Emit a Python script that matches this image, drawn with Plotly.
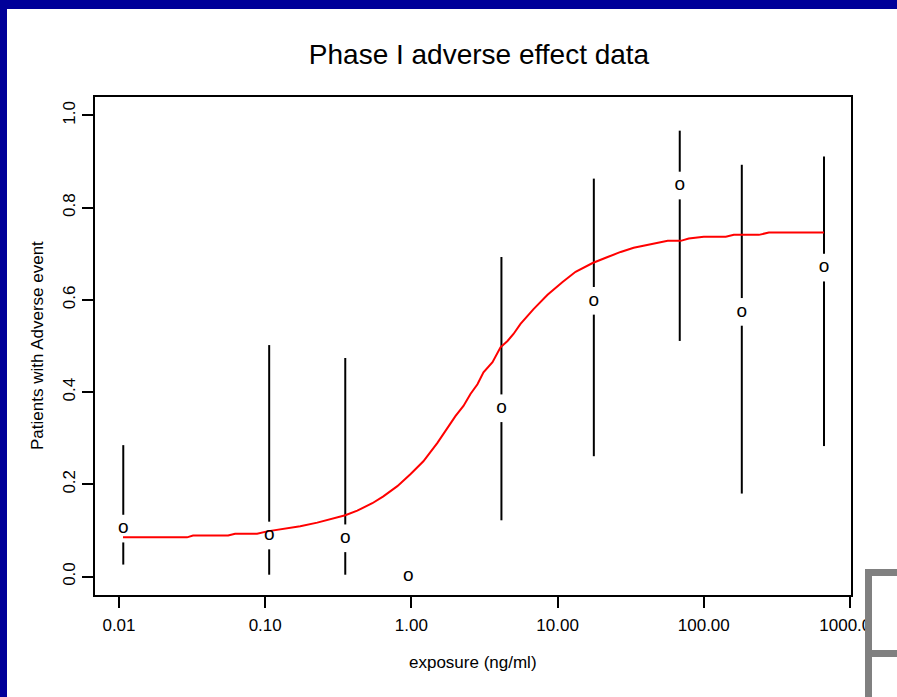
import plotly.graph_objects as go

# ---- data ----
exposure = [0.0107, 0.1065, 0.353, 0.954, 4.13, 17.7, 68.5, 182.0, 664.0]
proportion = [0.104, 0.089, 0.083, 0.0, 0.365, 0.598, 0.848, 0.574, 0.670]
ci_lower = [0.026, 0.004, 0.004, None, 0.122, 0.261, 0.511, 0.180, 0.283]
ci_upper = [0.285, 0.502, 0.474, None, 0.693, 0.863, 0.967, 0.893, 0.911]

curve_x = [0.01065, 0.0292, 0.0321, 0.0558, 0.0623, 0.0881, 0.1032, 0.1266, 0.1737,
           0.2271, 0.2922, 0.3531, 0.4266, 0.5406, 0.6430, 0.8018, 0.9844, 1.208,
           1.507, 1.792, 2.001, 2.271, 2.536, 2.832, 3.113, 3.588, 4.070, 4.545,
           4.995, 5.579, 6.848, 8.541, 10.82, 13.28, 17.37, 22.00, 27.01, 33.15,
           42.01, 56.68, 69.57, 78.93, 100.0, 141.5, 160.5, 238.1, 278.7, 663.7]
curve_y = [0.085, 0.085, 0.089, 0.089, 0.093, 0.093, 0.098, 0.102, 0.109,
           0.117, 0.126, 0.133, 0.143, 0.159, 0.174, 0.196, 0.222, 0.250,
           0.290, 0.326, 0.348, 0.370, 0.396, 0.417, 0.443, 0.465, 0.497, 0.511,
           0.526, 0.548, 0.580, 0.611, 0.639, 0.661, 0.680, 0.693, 0.704, 0.713,
           0.720, 0.728, 0.728, 0.733, 0.737, 0.737, 0.741, 0.741, 0.746, 0.746]

x_tickvals = [0.01, 0.1, 1, 10, 100, 1000]
x_ticktext = ["0.01", "0.10", "1.00", "10.00", "100.00", "1000.00"]
y_tickvals = [0.0, 0.2, 0.4, 0.6, 0.8, 1.0]
y_ticktext = ["0.0", "0.2", "0.4", "0.6", "0.8", "1.0"]

# ---- style constants ----
W, H = 897, 697
L, R, T, B = 95, 46, 97, 102
GAP = 0.03
NAVY = "#000099"
GRAY = "#808080"
FONT = "Arial"

pw, ph = W - L - R, H - T - B


def px_x(px):
    return (px - L) / pw


def px_y(py):
    return (H - B - py) / ph


# error-bar segments with a gap around the plotted symbol
ex, ey = [], []
for x, p, lo, hi in zip(exposure, proportion, ci_lower, ci_upper):
    if lo is None or hi is None:
        continue
    if hi > p + GAP:
        ex += [x, x, None]
        ey += [hi, p + GAP, None]
    if p - GAP > lo:
        ex += [x, x, None]
        ey += [p - GAP, lo, None]

fig = go.Figure()
fig.add_trace(go.Scatter(x=ex, y=ey, mode="lines",
                         line=dict(color="black", width=2), showlegend=False,
                         hoverinfo="skip"))
fig.add_trace(go.Scatter(x=curve_x, y=curve_y, mode="lines",
                         line=dict(color="#ff0000", width=2), showlegend=False))
fig.add_trace(go.Scatter(x=exposure, y=proportion, mode="text", text=["o"] * len(exposure),
                         textposition="middle center",
                         textfont=dict(family=FONT, size=19, color="black"),
                         showlegend=False))

shapes = [
    # navy frame (top and left)
    dict(type="rect", xref="paper", yref="paper", x0=-0.5, x1=1.5,
         y0=px_y(9), y1=px_y(-40), fillcolor=NAVY, line=dict(width=0), layer="above"),
    dict(type="rect", xref="paper", yref="paper", x0=px_x(-40), x1=px_x(7),
         y0=px_y(760), y1=px_y(-40), fillcolor=NAVY, line=dict(width=0), layer="above"),
    # gray box fragment at bottom right (opaque white inside)
    dict(type="rect", xref="paper", yref="paper", x0=px_x(865), x1=px_x(940),
         y0=px_y(760), y1=px_y(569), fillcolor="white", line=dict(width=0), layer="above"),
    dict(type="rect", xref="paper", yref="paper", x0=px_x(865), x1=px_x(872),
         y0=px_y(760), y1=px_y(569), fillcolor=GRAY, line=dict(width=0), layer="above"),
    dict(type="rect", xref="paper", yref="paper", x0=px_x(865), x1=px_x(940),
         y0=px_y(576), y1=px_y(569), fillcolor=GRAY, line=dict(width=0), layer="above"),
    dict(type="rect", xref="paper", yref="paper", x0=px_x(865), x1=px_x(940),
         y0=px_y(657), y1=px_y(650), fillcolor=GRAY, line=dict(width=0), layer="above"),
]

annotations = [
    dict(text="exposure (ng/ml)", xref="paper", yref="paper", x=0.5, y=px_y(662),
         xanchor="center", yanchor="middle", showarrow=False,
         font=dict(family=FONT, size=17, color="black")),
    dict(text="Patients with Adverse event", xref="paper", yref="paper", x=px_x(37),
         y=0.5, xanchor="center", yanchor="middle", textangle=-90, showarrow=False,
         font=dict(family=FONT, size=17, color="black")),
]

fig.update_layout(
    width=W, height=H,
    margin=dict(l=L, r=R, t=T, b=B),
    paper_bgcolor="white", plot_bgcolor="white",
    title=dict(text="Phase I adverse effect data", x=479 / W, xanchor="center",
               y=1 - 54 / H, yanchor="middle", yref="container",
               font=dict(family=FONT, size=28, color="black")),
    shapes=shapes, annotations=annotations,
    xaxis=dict(type="log", range=[-2.164, 3.007], showgrid=False, zeroline=False,
               showline=True, mirror=True, linecolor="black", linewidth=2,
               ticks="outside", ticklen=11, tickwidth=2, tickcolor="black",
               tickvals=x_tickvals, ticktext=x_ticktext, ticklabelstandoff=3,
               tickfont=dict(family=FONT, size=17, color="black")),
    yaxis=dict(range=[-0.04, 1.04], showgrid=False, zeroline=False,
               showline=True, mirror=True, linecolor="black", linewidth=2,
               ticks="outside", ticklen=11, tickwidth=2, tickcolor="black",
               tickvals=y_tickvals, ticktext=y_ticktext, tickangle=-90,
               tickfont=dict(family=FONT, size=17, color="black")),
)

fig.write_html("out.html")
